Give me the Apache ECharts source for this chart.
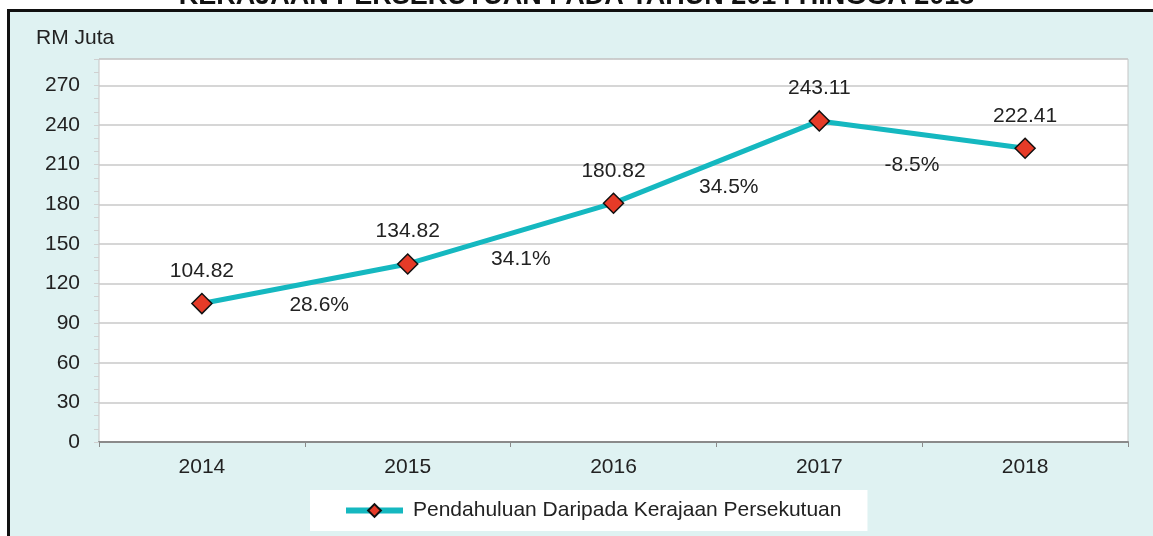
<!DOCTYPE html>
<html>
<head>
<meta charset="utf-8">
<script src="https://cdn.jsdelivr.net/npm/echarts@6/dist/echarts.min.js"></script>
<style>
  html, body { margin: 0; padding: 0; background: #fff; }
  #panel { position: absolute; left: 7px; top: 9px; width: 1200px; height: 600px;
           background: #dff2f2; border-left: 3px solid #111; border-top: 3px solid #111; }
  #chart { position: absolute; left: 0; top: 0; width: 1153px; height: 536px; }
</style>
</head>
<body>
<div id="panel"></div>
<div id="chart"></div>
<script>
  // data
  var years = ['2014', '2015', '2016', '2017', '2018']
  var values = [104.82, 134.82, 180.82, 243.11, 222.41]
  // growth labels, placed between the years (x as category index, y in RM Juta)
  var growthText = ['28.6%', '34.1%', '34.5%', '-8.5%']
  var growthX = [0.57, 1.55, 2.56, 3.45]
  var growthY = [103.5, 138.5, 193, 209.5]
  var seriesName = 'Pendahuluan Daripada Kerajaan Persekutuan'
  var titleText = 'KERAJAAN PERSEKUTUAN PADA TAHUN 2014 HINGGA 2018'

  var font = 'Liberation Sans, Arial, sans-serif'
  var chart = echarts.init(document.getElementById('chart'))

  var growthData = growthX.map(function (x, i) {
    return { value: [x, growthY[i]], label: { formatter: growthText[i] } }
  })

  chart.setOption({
    backgroundColor: 'transparent',
    textStyle: { fontFamily: font },
    title: {
      text: titleText,
      left: 'center',
      top: -22,
      textStyle: { fontSize: 27, fontWeight: 'bold', color: '#111', fontFamily: font }
    },
    graphic: [{
      type: 'text', left: 36, top: 28,
      style: { text: 'RM Juta', fontSize: 21, fill: '#222', fontFamily: font }
    }],
    legend: {
      data: [seriesName],
      left: 310,
      top: 490,
      backgroundColor: '#fff',
      padding: [10, 26, 10, 33],
      itemWidth: 57,
      itemHeight: 16,
      lineStyle: { width: 6 },
      textStyle: { fontSize: 21, color: '#222', fontFamily: font, padding: [0, 0, 0, 5] }
    },
    grid: {
      left: 99, right: 25, top: 59, bottom: 94,
      show: true, backgroundColor: '#fff', borderColor: '#c4c4c4', borderWidth: 1
    },
    xAxis: [{
      type: 'category',
      data: years,
      boundaryGap: true,
      axisLine: { lineStyle: { color: '#8a8a8a', width: 2 } },
      axisTick: { show: true, length: 5, lineStyle: { color: '#8a8a8a' } },
      axisLabel: { fontSize: 21, color: '#222', margin: 15 },
      splitLine: { show: false }
    }, {
      type: 'value', min: -0.5, max: 4.5, show: false
    }],
    yAxis: [{
      type: 'value',
      min: 0, max: 290, interval: 30,
      axisLine: { show: false },
      axisTick: { show: false },
      axisLabel: {
        fontSize: 21, color: '#222', margin: 19,
        formatter: function (v) { return v > 270 ? '' : String(v) }
      },
      splitLine: { lineStyle: { color: '#c8c8c8', width: 1.5 } }
    }, {
      type: 'value', position: 'left',
      min: 0, max: 290, interval: 10,
      axisLine: { show: false },
      axisTick: { show: true, length: 5, lineStyle: { color: '#d0d0d0' } },
      axisLabel: { show: false },
      splitLine: { show: false }
    }],
    series: [{
      name: seriesName,
      type: 'line',
      data: values,
      symbol: 'diamond',
      symbolSize: 20,
      lineStyle: { color: '#15b8c0', width: 5 },
      itemStyle: { color: '#e63b28', borderColor: '#111', borderWidth: 1.5 },
      label: {
        show: true, position: 'top', distance: 11,
        fontSize: 21, color: '#222',
        formatter: function (p) { return p.value.toFixed(2) }
      },
      z: 3
    }, {
      type: 'scatter',
      xAxisIndex: 1,
      yAxisIndex: 0,
      symbolSize: 1,
      silent: true,
      itemStyle: { color: 'transparent', opacity: 1 },
      data: growthData,
      label: { show: true, position: 'inside', fontSize: 21, color: '#222', opacity: 1 }
    }]
  })
</script>
</body>
</html>
